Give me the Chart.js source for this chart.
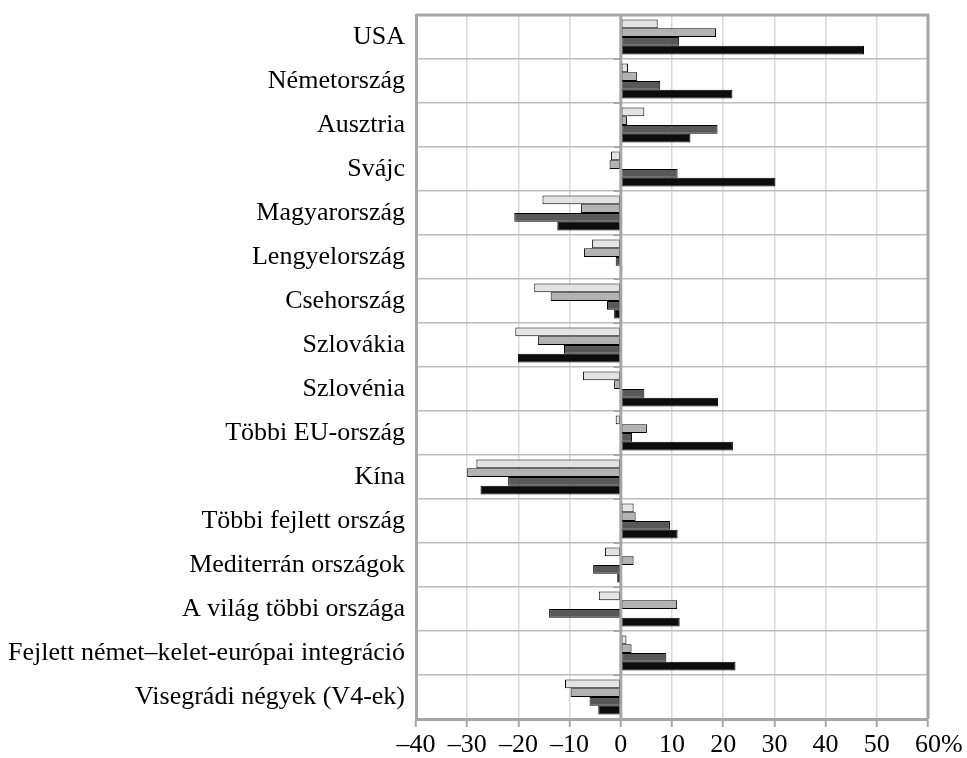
<!DOCTYPE html>
<html>
<head>
<meta charset="utf-8">
<script src="https://cdn.jsdelivr.net/npm/chart.js@4/dist/chart.umd.min.js"></script>
<style>
  html, body { margin: 0; padding: 0; background: #ffffff; }
  canvas { display: block; }
</style>
</head>
<body>
<canvas id="chart" width="967" height="758"></canvas>
<script>
// Categories, top to bottom
const categories = [
  'USA', 'Németország', 'Ausztria', 'Svájc', 'Magyarország', 'Lengyelország',
  'Csehország', 'Szlovákia', 'Szlovénia', 'Többi EU-ország', 'Kína',
  'Többi fejlett ország', 'Mediterrán országok', 'A világ többi országa',
  'Fejlett német–kelet-európai integráció', 'Visegrádi négyek (V4-ek)'
];

// Percentage changes, four periods per category
const series1 = [7.2, 1.4, 4.6, -1.9, -15.3, -5.6, -16.9, -20.6, -7.4, -1.0, -28.2, 2.5, -3.1, -4.3, 1.1, -10.9];
const series2 = [18.6, 3.2, 1.2, -2.2, -7.8, -7.2, -13.7, -16.2, -1.3, 5.1, -30.0, 2.9, 2.5, 11.0, 2.1, -9.8];
const series3 = [11.4, 7.7, 18.9, 11.1, -20.8, -1.0, -2.7, -11.1, 4.6, 2.2, -22.0, 9.6, -5.4, -14.0, 8.9, -6.1];
const series4 = [47.5, 21.8, 13.6, 30.2, -12.4, 0.3, -1.3, -20.1, 19.0, 21.9, -27.4, 11.1, -0.7, 11.5, 22.4, -4.4];

// Value axis ticks
const tickValues = [-40, -30, -20, -10, 0, 10, 20, 30, 40, 50, 60];
const tickLabels = ['–40', '–30', '–20', '–10', '0', '10', '20', '30', '40', '50', '60'];
const unitSuffix = '%';

const FONT = "'Liberation Serif', 'Times New Roman', serif";
const FONT_SIZE = 26;
const AXIS_GREY = '#a6a6a6';

// Frame, zero line with its small category ticks, and the unit after the last tick label
const framePlugin = {
  id: 'frame',
  afterDatasetsDraw(chart) {
    const { ctx, chartArea: a, scales } = chart;
    const x0 = scales.x.getPixelForValue(0);
    ctx.save();
    ctx.strokeStyle = AXIS_GREY;
    ctx.lineWidth = 3;
    ctx.beginPath();
    ctx.moveTo(x0, a.top);
    ctx.lineTo(x0, a.bottom);
    ctx.stroke();
    // small marks on the zero line at category boundaries
    ctx.lineWidth = 2;
    const n = categories.length;
    const step = (a.bottom - a.top) / n;
    ctx.beginPath();
    for (let i = 0; i <= n; i++) {
      const y = a.top + i * step;
      ctx.moveTo(x0 - 7, y);
      ctx.lineTo(x0, y);
    }
    ctx.stroke();
    // top and right frame
    ctx.lineWidth = 3;
    ctx.beginPath();
    ctx.moveTo(a.left, a.top);
    ctx.lineTo(a.right, a.top);
    ctx.lineTo(a.right, a.bottom);
    ctx.stroke();
    ctx.restore();
  },
  afterDraw(chart) {
    const { ctx, scales } = chart;
    const xs = scales.x;
    const last = tickValues[tickValues.length - 1];
    const px = xs.getPixelForValue(last);
    ctx.save();
    ctx.font = FONT_SIZE + 'px ' + FONT;
    const w = ctx.measureText(tickLabels[tickLabels.length - 1]).width;
    ctx.fillStyle = '#000000';
    ctx.textAlign = 'left';
    ctx.textBaseline = 'middle';
    ctx.fillText(unitSuffix, px + w / 2, xs.top + 8 + 3 + FONT_SIZE * 1.2 / 2);
    ctx.restore();
  }
};

const bar = (label, data, color) => ({
  label, data,
  backgroundColor: color,
  borderColor: '#000000',
  borderWidth: 1,
  borderSkipped: false
});

new Chart(document.getElementById('chart'), {
  type: 'bar',
  data: {
    labels: categories,
    datasets: [
      bar('1. időszak', series1, '#e3e3e3'),
      bar('2. időszak', series2, '#b2b2b2'),
      bar('3. időszak', series3, '#585858'),
      bar('4. időszak', series4, '#0c0c0c')
    ]
  },
  options: {
    indexAxis: 'y',
    responsive: false,
    animation: false,
    devicePixelRatio: 1,
    categoryPercentage: 0.8,
    barPercentage: 1.0,
    layout: { padding: { top: 15, right: 39, bottom: 0, left: 0 } },
    plugins: {
      legend: { display: false },
      tooltip: { enabled: false }
    },
    scales: {
      x: {
        type: 'linear',
        min: -40,
        max: 60,
        afterBuildTicks(scale) {
          scale.ticks = tickValues.map(v => ({ value: v }));
        },
        afterFit(scale) { scale.height = 39; },
        grid: {
          color: '#d9d9d9',
          lineWidth: 1.5,
          drawTicks: true,
          tickLength: 8,
          tickColor: AXIS_GREY,
          tickWidth: 2
        },
        border: { display: true, color: AXIS_GREY, width: 3 },
        ticks: {
          padding: 3,
          maxRotation: 0,
          autoSkip: false,
          color: '#000000',
          font: { family: FONT, size: FONT_SIZE },
          callback: (v, i) => tickLabels[i]
        }
      },
      y: {
        type: 'category',
        afterFit(scale) {
          scale.width = 416;
          // labels sit at category centres, so no extra room is needed above or below
          scale.paddingTop = 0;
          scale.paddingBottom = 0;
        },
        grid: {
          color: '#bdbdbd',
          lineWidth: 1.5,
          drawTicks: false,
          tickLength: 0,
          offset: true
        },
        border: { display: true, color: AXIS_GREY, width: 3 },
        ticks: {
          padding: 11,
          autoSkip: false,
          color: '#000000',
          font: { family: FONT, size: FONT_SIZE }
        }
      }
    }
  },
  plugins: [framePlugin]
});
</script>
</body>
</html>
